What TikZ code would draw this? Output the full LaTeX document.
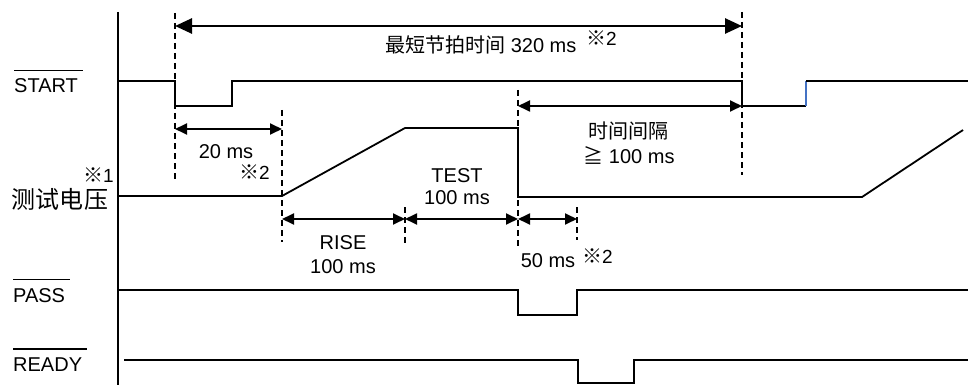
\documentclass[tikz,border=0pt]{standalone}
\usepackage{fontspec}
\setmainfont{Liberation Sans}
\newfontfamily\cjk{Noto Sans CJK SC}
\usetikzlibrary{arrows.meta,calc}
\definecolor{edgeblue}{RGB}{68,114,196}
\newcommand{\refmark}{{\cjk\fontsize{20}{22}\selectfont ※}}

\tikzset{
  signal/.style={line width=1.8pt, line join=miter},
  guide/.style={line width=1.2pt, dash pattern=on 6pt off 4pt},
  span/.style={line width=1.8pt, <->},
  txt/.style={inner sep=0pt, font=\fontsize{20}{24}\selectfont},
  note/.style={inner sep=0pt, font=\fontsize{19}{21}\selectfont},
  overbar/.style={line width=1.2pt}
}

\begin{document}
\begin{tikzpicture}[x=1pt, y=-1pt, >={Triangle[length=12pt,width=11pt]}]
    \useasboundingbox (0,0) rectangle (968,385);

    % time marks
    \foreach \t/\x in {ta/175, tb/282, tc/405, td/518, te/577, tf/742}
        \coordinate (\t) at (\x,0);

    % signal names
    \node[txt, anchor=base west] (lstart) at (14,93) {START};
    \node[txt, anchor=base west] (lpass) at (13,302) {PASS};
    \node[txt, anchor=base west] (lready) at (13,371) {READY};
    \node[inner sep=0pt, font=\cjk\fontsize{24}{28}\selectfont] (lvolt) at (60,199) {测试电压};
    \node[note, anchor=base west] (mark1) at (83,182) {\refmark1};
    \foreach \n in {lstart, lpass, lready}
        \draw[overbar] ([yshift=8pt]\n.north west) -- ([yshift=8pt, xshift=5pt]\n.north east);

    % axis
    \draw[line width=2.6pt] (118,12) -- (118,385);

    % guide lines
    \draw[guide] ($(ta)+(0,13)$) -- ($(ta)+(0,181)$);
    \draw[guide] ($(tb)+(0,110)$) -- ($(tb)+(0,242)$);
    \draw[guide] ($(tc)+(0,207)$) -- ($(tc)+(0,245)$);
    \draw[guide] ($(td)+(0,90)$) -- ($(td)+(0,247)$);
    \draw[guide] ($(te)+(0,207)$) -- ($(te)+(0,240)$);
    \draw[guide] ($(tf)+(0,12)$) -- ($(tf)+(0,175)$);

    % signals
    \draw[signal] (118,81) -- (175,81) -- (175,106) -- (232,106) -- (232,81) -- (742,81) -- (742,106) -- (806,106);
    \draw[signal, edgeblue] (806,106) -- (806,81);
    \draw[signal] (806,81) -- (968,81);
    \draw[signal] (118,196) -- (282,196) -- (405,128) -- (518,128) -- (518,197) -- (862,197) -- (963,130);
    \draw[signal] (118,290) -- (518,290) -- (518,315) -- (577,315) -- (577,290) -- (968,290);
    \draw[signal] (124,360) -- (578,360) -- (578,383) -- (634,383) -- (634,360) -- (968,360);

    % spans
    \draw[span, line width=2.6pt, >={Triangle[length=17pt,width=15pt]}] ($(ta)+(0,26)$) -- ($(tf)+(0,26)$);
    \draw[span] ($(ta)+(0,129)$) -- ($(tb)+(0,129)$);
    \draw[span] ($(td)+(0,106)$) -- ($(tf)+(0,106)$);
    \draw[span] ($(tb)+(0,219)$) -- ($(tc)+(0,219)$);
    \draw[span] ($(tc)+(0,219)$) -- ($(td)+(0,219)$);
    \draw[span] ($(td)+(0,219)$) -- ($(te)+(0,219)$);

    % span labels
    \node[txt, anchor=base west] (lcycle) at (385,53) {{\cjk 最短节拍时间} 320 ms};
    \node[note, anchor=base west] (mark2a) at (586,46) {\refmark2};
    \node[txt, anchor=base] (ldelay) at (226,158) {20 ms};
    \node[note, anchor=base west] (mark2b) at (239,179) {\refmark2};
    \node[txt, font=\cjk\fontsize{20}{24}\selectfont] (lgap) at (628,131) {时间间隔};
    \node[txt, anchor=base] (lgapmin) at (629,163) {{\cjk ≧} 100 ms};
    \node[txt, anchor=base] (ltest) at (457,182) {TEST};
    \node[txt, anchor=base] (ltestt) at (457,204) {100 ms};
    \node[txt, anchor=base] (lrise) at (343,249) {RISE};
    \node[txt, anchor=base] (lriset) at (343,273) {100 ms};
    \node[txt, anchor=base] (ljudge) at (548,267) {50 ms};
    \node[note, anchor=base west] (mark2c) at (582,263) {\refmark2};
\end{tikzpicture}
\end{document}
